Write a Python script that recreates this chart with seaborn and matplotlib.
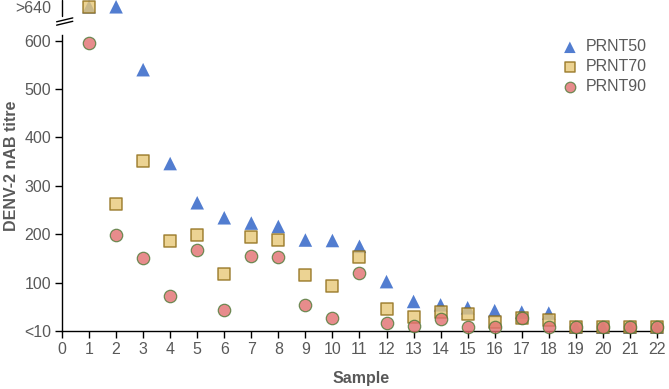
import numpy as np
import pandas as pd
import seaborn as sns
import matplotlib.pyplot as plt

# Values; 670 marks ">640", 8 marks "<10"
samples = list(range(1, 23))
prnt50 = [670, 670, 540, 346, 265, 234, 223, 216, 188, 187, 175, 102, 61, 54, 48, 42, 39, 37, 8, 8, 8, 8]
prnt70 = [670, 263, 351, 186, 198, 118, 195, 188, 115, 92, 152, 45, 29, 39, 36, 18, 27, 22, 8, 8, 8, 8]
prnt90 = [596, 199, 150, 72, 168, 44, 156, 153, 54, 27, 120, 16, 11, 25, 9, 9, 27, 9, 8, 8, 8, 8]

ytick_vals = [0, 100, 200, 300, 400, 500, 600, 670]
ytick_labels = ['<10', '100', '200', '300', '400', '500', '600', '>640']

sns.set_style('white')
plt.rcParams['font.family'] = ['Liberation Sans', 'DejaVu Sans']
grey = '#595959'

fig = plt.figure(figsize=(6.69, 3.89), dpi=100)
ax = fig.add_axes([62 / 669, 1 - 331 / 389, 599 / 669, 331 / 389])

sns.scatterplot(x=samples, y=prnt50, ax=ax, marker='^', s=95, color='#3F6FCB',
                edgecolor='none', alpha=0.9, label='PRNT50', clip_on=False, zorder=3)
sns.scatterplot(x=samples, y=prnt70, ax=ax, marker='s', s=70, color='#E8C878',
                edgecolor='#8C6A14', linewidth=1.1, alpha=0.8, label='PRNT70', clip_on=False, zorder=4)
sns.scatterplot(x=samples, y=prnt90, ax=ax, marker='o', s=80, color='#E27070',
                edgecolor='#4E7A38', linewidth=0.9, alpha=0.8, label='PRNT90', clip_on=False, zorder=5)

ax.set_xlim(0, 22.15)
ax.set_ylim(0, 684)
ax.set_xticks(range(0, 23))
ax.set_yticks(ytick_vals)
ax.set_yticklabels(ytick_labels)
ax.tick_params(axis='both', direction='out', length=5, width=1, color='black',
               labelsize=11.5, labelcolor=grey, pad=3, left=True, bottom=True)
ax.yaxis.get_major_ticks()[-1].tick1line.set_visible(False)

for side in ['top', 'right']:
    ax.spines[side].set_visible(False)
for side in ['left', 'bottom']:
    ax.spines[side].set_color('black')
    ax.spines[side].set_linewidth(1)
ax.spines['left'].set_bounds(0, 612)

# axis break
tr = ax.get_yaxis_transform()
ax.plot([0, 0], [650, 684], color='black', lw=1, transform=tr, clip_on=False)
ax.plot([-0.009, 0.018], [632, 640], color='black', lw=1, transform=tr, clip_on=False)
ax.plot([-0.009, 0.018], [639, 647], color='black', lw=1, transform=tr, clip_on=False)

ax.set_xlabel('Sample', fontsize=11.5, fontweight='bold', color=grey, labelpad=10)
ax.set_ylabel('DENV-2 nAB titre', fontsize=11.5, fontweight='bold', color=grey)
ax.yaxis.set_label_coords(-0.072, 0.5)

leg = ax.legend(loc='upper right', bbox_to_anchor=(0.987, 0.90), frameon=False,
                fontsize=11.5, handletextpad=0.0, labelspacing=0.3, borderaxespad=0,
                markerscale=0.85)
for t in leg.get_texts():
    t.set_color(grey)

fig.savefig('out.png', dpi=100)
